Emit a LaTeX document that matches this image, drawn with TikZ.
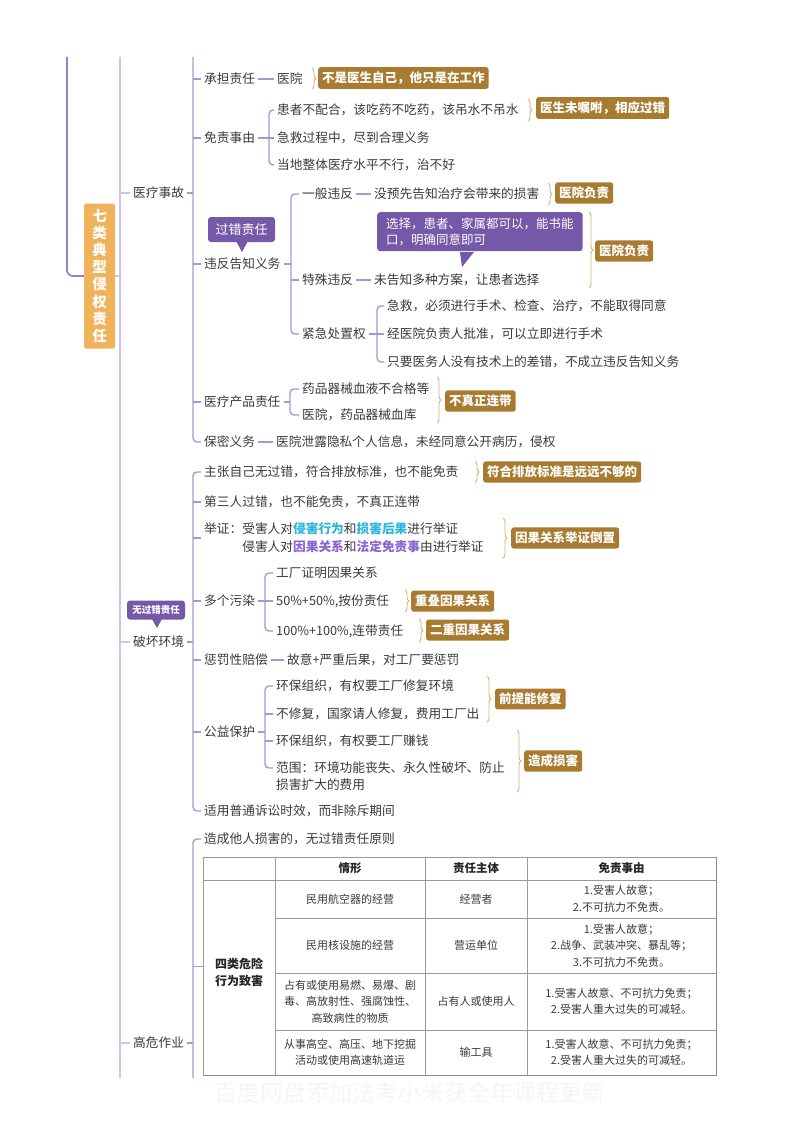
\documentclass[tikz,border=0pt]{standalone}
\usepackage{fontspec}
\setmainfont{Noto Sans CJK SC}
\usetikzlibrary{decorations.pathreplacing}
\definecolor{txtc}{HTML}{3A3A3A}
\definecolor{tagc}{HTML}{A97B30}
\definecolor{brc}{HTML}{A797D5}
\definecolor{brlc}{HTML}{CEC6E8}
\definecolor{brdc}{HTML}{9282CB}
\definecolor{bracec}{HTML}{D6B576}
\definecolor{callc}{HTML}{7658A8}
\definecolor{rootc}{HTML}{F0B35B}
\definecolor{cyanc}{HTML}{2CB6D9}
\definecolor{purc}{HTML}{8A62D4}
\definecolor{tblc}{HTML}{9A9A9A}
\tikzset{
  txt/.style={anchor=west, text=txtc, font=\fontsize{12.7}{15}\selectfont, inner xsep=3pt, inner ysep=2pt},
  tag/.style={anchor=west, fill=tagc, text=white, font=\fontsize{12.5}{15}\selectfont\bfseries, rounded corners=2.5pt, inner xsep=4pt, inner ysep=4.5pt},
  br/.style={draw=brc, line width=1.4pt},
  brl/.style={draw=brlc, line width=1.8pt},
  brd/.style={draw=brdc, line width=1.8pt},
  gbrace/.style={draw=bracec, line width=0.9pt, decorate, decoration={brace, amplitude=4pt}},
  callbox/.style={fill=callc, text=white, rounded corners=3pt},
  cell/.style={text=txtc, font=\fontsize{11}{16.5}\selectfont, align=center},
  head/.style={text=black!85, font=\fontsize{11.5}{14}\selectfont\bfseries},
  rootbox/.style={fill=rootc, text=white, font=\fontsize{14.5}{17.2}\selectfont\bfseries, align=center, minimum width=31pt, minimum height=145pt, inner sep=0pt, rounded corners=1.5pt},
  tbll/.style={draw=tblc, line width=0.8pt},
}
\begin{document}
\begin{tikzpicture}[x=1pt,y=-1pt]
\useasboundingbox[fill=white] (0,0) rectangle (800,1132);

% watermark
\node[text=black!4, font=\fontsize{23}{23}\selectfont] (wm) at (410,1093) {百度网盘添加法考小米获全年课程更新};

% root
\node[rootbox] (root) at (99.5,276) {七\\类\\典\\型\\侵\\权\\责\\任};
\draw[brd, rounded corners=6pt] (67,57) |- (root.west);
\draw[brl] (120,57) -- (120,1078);
\draw[brl] (root.east) -- (120,0 |- root.east);

% level 1
\node[txt] (A) at (130,193) {医疗事故};
\node[txt] (B) at (130,642) {破坏环境};
\node[txt] (C) at (130,1043) {高危作业};
\foreach \n in {A,B,C} {
  \draw[brl] (120,0 |- \n.west) -- (\n.west);
  \draw[br] (\n.east) -- (193,0 |- \n.east);
}

% ===== 医疗事故 =====
\node[txt] (a1) at (201,79) {承担责任};
\node[txt] (a1b) at (274,79) {医院};
\draw[br] (a1.east) -- (a1b.west);
\draw[gbrace] (312,68) -- (312,89);
\node[tag] (t1) at (318,78) {不是医生自己，他只是在工作};

\node[txt] (a2) at (201,138) {免责事由};
\node[txt] (a21) at (274,110) {患者不配合，该吃药不吃药，该吊水不吊水};
\node[txt] (a22) at (274,138) {急救过程中，尽到合理义务};
\node[txt] (a23) at (274,165) {当地整体医疗水平不行，治不好};
\draw[br] (a2.east) -- (269,0 |- a2.east);
\draw[br, rounded corners=4pt] (a21.west) -| (269,0 |- a23.west) -- (a23.west);
\draw[br] (269,0 |- a22.west) -- (a22.west);
\draw[gbrace] (528,99) -- (528,121);
\node[tag] (t2) at (536,108) {医生未嘱咐，相应过错};

\node[txt] (a3) at (201,264) {违反告知义务};
\node[callbox, font=\fontsize{13}{15}\selectfont, minimum width=67pt, minimum height=25pt, inner sep=0pt] (cb1) at (241.5,229.5) {过错责任};
\fill[callc] (236,241) -- (242,252) -- (248,241) -- cycle;

\node[txt] (a31) at (299,194) {一般违反};
\node[txt] (a31b) at (371,194) {没预先告知治疗会带来的损害};
\draw[br] (a31.east) -- (a31b.west);
\draw[gbrace] (548,183) -- (548,205);
\node[tag] (t3) at (555,193) {医院负责};

\node[txt] (a32) at (299,280) {特殊违反};
\node[txt] (a32b) at (371,280) {未告知多种方案，让患者选择};
\draw[br] (a32.east) -- (a32b.west);
\node[callbox, anchor=north west, align=left, font=\fontsize{12.5}{16}\selectfont, inner xsep=9pt, inner ysep=5.5pt] (cb2) at (377,212) {选择，患者、家属都可以，能书能\\口，明确同意即可};
\fill[callc] (460,252) -- (462,267) -- (474,252) -- cycle;
\draw[gbrace] (589,212) -- (589,288);
\node[tag] (t4) at (595,251) {医院负责};

\node[txt] (a33) at (299,334) {紧急处置权};
\node[txt] (a331) at (384,306) {急救，必须进行手术、检查、治疗，不能取得同意};
\node[txt] (a332) at (384,334) {经医院负责人批准，可以立即进行手术};
\node[txt] (a333) at (384,362) {只要医务人没有技术上的差错，不成立违反告知义务};
\draw[br] (a33.east) -- (377,0 |- a33.east);
\draw[br, rounded corners=4pt] (a331.west) -| (377,0 |- a333.west) -- (a333.west);
\draw[br] (377,0 |- a332.west) -- (a332.west);

\draw[br] (a3.east) -- (291,0 |- a3.east);
\draw[br, rounded corners=4pt] (a31.west) -| (291,0 |- a33.west) -- (a33.west);
\draw[br] (291,0 |- a32.west) -- (a32.west);

\node[txt] (a4) at (201,402) {医疗产品责任};
\node[txt] (a41) at (299,389) {药品器械血液不合格等};
\node[txt] (a42) at (299,415) {医院，药品器械血库};
\draw[br] (a4.east) -- (290,0 |- a4.east);
\draw[br, rounded corners=4pt] (a41.west) -| (290,0 |- a42.west) -- (a42.west);
\draw[gbrace] (437,377) -- (437,423);
\node[tag] (t5) at (445,401) {不真正连带};

\node[txt] (a5) at (201,442) {保密义务};
\node[txt] (a5b) at (273,442) {医院泄露隐私个人信息，未经同意公开病历，侵权};
\draw[br] (a5.east) -- (a5b.west);

\draw[br, rounded corners=4pt] (193,57) |- (a5.west);
\foreach \n in {a1,a2,a3,a4} { \draw[br] (193,0 |- \n.west) -- (\n.west); }

% ===== 破坏环境 =====
\node[callbox, font=\fontsize{9.5}{11}\selectfont\bfseries, minimum width=58pt, minimum height=19pt, inner sep=0pt] (cb3) at (156,610) {无过错责任};
\fill[callc] (152,619) -- (157,628) -- (162,619) -- cycle;

\node[txt] (b1) at (201,472) {主张自己无过错，符合排放标准，也不能免责};
\draw[gbrace] (475,461) -- (475,483);
\node[tag] (t6) at (483,472) {符合排放标准是远远不够的};

\node[txt] (b2) at (201,502) {第三人过错，也不能免责，不真正连带};

\node[txt, align=left, font=\fontsize{12.7}{18}\selectfont] (b3) at (201,538) {举证：受害人对\textcolor{cyanc}{\bfseries 侵害行为}和\textcolor{cyanc}{\bfseries 损害后果}进行举证\\\phantom{举证：}侵害人对\textcolor{purc}{\bfseries 因果关系}和\textcolor{purc}{\bfseries 法定免责事}由进行举证};
\draw[gbrace] (503,518) -- (503,558);
\node[tag] (t7) at (511,538) {因果关系举证倒置};

\node[txt] (b4) at (201,601) {多个污染};
\node[txt] (b41) at (273,573) {工厂证明因果关系};
\node[txt] (b42) at (273,601) {50\%+50\%,按份责任};
\node[txt] (b43) at (273,631) {100\%+100\%,连带责任};
\draw[br] (b4.east) -- (265,0 |- b4.east);
\draw[br, rounded corners=4pt] (b41.west) -| (265,0 |- b43.west) -- (b43.west);
\draw[br] (265,0 |- b42.west) -- (b42.west);
\draw[gbrace] (405,590) -- (405,612);
\node[tag] (t8) at (411,601) {重叠因果关系};
\draw[gbrace] (419,619) -- (419,642);
\node[tag] (t9) at (426,630) {二重因果关系};

\node[txt] (b5) at (201,660) {惩罚性赔偿};
\node[txt] (b5b) at (284,660) {故意+严重后果，对工厂要惩罚};
\draw[br] (b5.east) -- (b5b.west);

\node[txt] (b6) at (201,732) {公益保护};
\node[txt] (b61) at (273,686) {环保组织，有权要工厂修复环境};
\node[txt] (b62) at (273,714) {不修复，国家请人修复，费用工厂出};
\node[txt] (b63) at (273,741) {环保组织，有权要工厂赚钱};
\node[txt] (b64) at (273,768) {范围：环境功能丧失、永久性破坏、防止};
\node[txt] (b65) at (273,785) {损害扩大的费用};
\draw[br] (b6.east) -- (265,0 |- b6.east);
\draw[br, rounded corners=4pt] (b61.west) -| (265,0 |- b64.west) -- (b64.west);
\foreach \n in {b62,b63} { \draw[br] (265,0 |- \n.west) -- (\n.west); }
\draw[gbrace] (487,676) -- (487,722);
\node[tag] (t10) at (495,699) {前提能修复};
\draw[gbrace] (517,730) -- (517,792);
\node[tag] (t11) at (524,761) {造成损害};

\node[txt] (b7) at (201,811) {适用普通诉讼时效，而非除斥期间};

\draw[br, rounded corners=4pt] (b1.west) -| (193,0 |- b7.west) -- (b7.west);
\foreach \n in {b2,b3,b4,b5,b6} { \draw[br] (193,0 |- \n.west) -- (\n.west); }

% ===== 高危作业 =====
\node[txt] (c1) at (201,839) {造成他人损害的，无过错责任原则};
\node[tbll, minimum width=513pt, minimum height=218pt, anchor=north west, inner sep=0pt] (tbl) at (203,857) {};
\draw[br, rounded corners=4pt] (c1.west) -| (193,1078);
\draw[br] (193,0 |- tbl.west) -- (tbl.west);

% table grid
\draw[tbll] (203,880) -- (716,880);
\draw[tbll] (275,857) -- (275,1075);
\draw[tbll] (425,857) -- (425,1075);
\draw[tbll] (527,857) -- (527,1075);
\draw[tbll] (275,918) -- (716,918);
\draw[tbll] (275,973) -- (716,973);
\draw[tbll] (275,1030) -- (716,1030);
\draw[draw=black!45, line width=1pt] (716.5,857) -- (716.5,1075.5) -- (203,1075.5);

\node[head] (h1) at (350,868.5) {情形};
\node[head] (h2) at (476,868.5) {责任主体};
\node[head] (h3) at (621.5,868.5) {免责事由};
\node[head, align=center, font=\fontsize{12}{17}\selectfont\bfseries] (k0) at (239,972) {四类危险\\行为致害};

\node[cell] (r11) at (350,899) {民用航空器的经营};
\node[cell] (r12) at (476,899) {经营者};
\node[cell] (r13) at (621.5,899) {1.受害人故意；\\2.不可抗力不免责。};

\node[cell] (r21) at (350,945.5) {民用核设施的经营};
\node[cell] (r22) at (476,945.5) {营运单位};
\node[cell] (r23) at (621.5,945.5) {1.受害人故意；\\2.战争、武装冲突、暴乱等；\\3.不可抗力不免责。};

\node[cell] (r31) at (350,1001.5) {占有或使用易燃、易爆、剧\\毒、高放射性、强腐蚀性、\\高致病性的物质};
\node[cell] (r32) at (476,1001.5) {占有人或使用人};
\node[cell] (r33) at (621.5,1001.5) {1.受害人故意、不可抗力免责；\\2.受害人重大过失的可减轻。};

\node[cell] (r41) at (350,1052.5) {从事高空、高压、地下挖掘\\活动或使用高速轨道运};
\node[cell] (r42) at (476,1052.5) {输工具};
\node[cell] (r43) at (621.5,1052.5) {1.受害人故意、不可抗力免责；\\2.受害人重大过失的可减轻。};
\end{tikzpicture}
\end{document}
